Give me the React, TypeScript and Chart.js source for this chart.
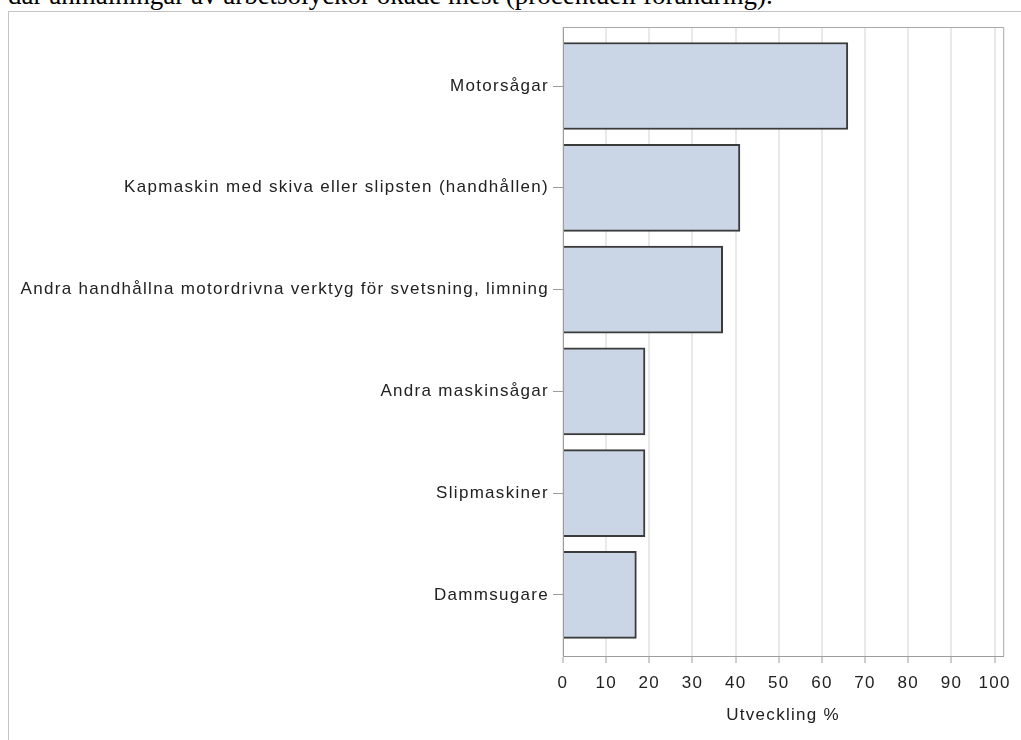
import React, { useEffect, useRef } from 'react';
import { Chart, registerables } from 'chart.js';

Chart.register(...registerables);

const heading = 'där anmälningar av arbetsolyckor ökade mest (procentuell förändring).';
const categories = [
  'Motorsågar',
  'Kapmaskin med skiva eller slipsten (handhållen)',
  'Andra handhållna motordrivna verktyg för svetsning, limning',
  'Andra maskinsågar',
  'Slipmaskiner',
  'Dammsugare',
];
const values = [66, 41, 37, 19, 19, 17];
const xTickValues = [0, 10, 20, 30, 40, 50, 60, 70, 80, 90, 100];
const xTitle = 'Utveckling %';

const FONT = "'Liberation Sans', Arial, sans-serif";
const FONT_SIZE = 17;
const TEXT_COLOR = '#222222';
const AXIS_COLOR = '#9c9c9c';
const LETTER_SPACING = '1.3px';

const framePlugin = {
  id: 'frame',
  beforeUpdate(chart: any) {
    (chart.ctx as any).letterSpacing = LETTER_SPACING;
  },
  beforeDraw(chart: any) {
    (chart.ctx as any).letterSpacing = LETTER_SPACING;
  },
  afterDraw(chart: any) {
    const { ctx, chartArea } = chart;
    ctx.save();
    ctx.strokeStyle = '#a8a8a8';
    ctx.lineWidth = 1;
    ctx.beginPath();
    ctx.moveTo(chartArea.left, chartArea.top + 0.5);
    ctx.lineTo(chartArea.right + 0.5, chartArea.top + 0.5);
    ctx.lineTo(chartArea.right + 0.5, chartArea.bottom);
    ctx.stroke();
    ctx.restore();
  },
};

export default function App() {
  const canvasRef = useRef<HTMLCanvasElement | null>(null);

  useEffect(() => {
    if (!canvasRef.current) return;
    const chart = new Chart(canvasRef.current, {
      type: 'bar',
      data: {
        datasets: [
          {
            data: values.map((v, i) => ({ x: v, y: i })),
            backgroundColor: '#cad5e6',
            borderColor: '#3b3b3b',
            borderWidth: 2,
            borderSkipped: 'start',
            barThickness: 87,
          } as any,
        ],
      },
      options: {
        animation: false,
        responsive: false,
        indexAxis: 'y',
        layout: { padding: { top: 27, right: 15, left: 0, bottom: 0 } },
        plugins: { legend: { display: false }, tooltip: { enabled: false } },
        scales: {
          x: {
            type: 'linear',
            position: 'bottom',
            min: 0,
            max: 102,
            offset: false,
            afterFit: (s: any) => {
              s.height = 84;
            },
            afterBuildTicks: (s: any) => {
              s.ticks = xTickValues.map((v) => ({ value: v }));
            },
            ticks: {
              autoSkip: false,
              maxRotation: 0,
              includeBounds: false,
              padding: 10,
              color: TEXT_COLOR,
              font: { family: FONT, size: FONT_SIZE },
            },
            grid: {
              offset: false,
              color: '#e9e9e9',
              lineWidth: 2,
              tickColor: AXIS_COLOR,
              tickWidth: 1,
              tickLength: 7,
            },
            border: { color: AXIS_COLOR, width: 1, z: 1 },
            title: {
              display: true,
              text: xTitle,
              color: TEXT_COLOR,
              font: { family: FONT, size: FONT_SIZE },
              padding: { top: 0, bottom: 14 },
            },
          },
          y: {
            type: 'linear',
            reverse: true,
            min: -0.58,
            max: 5.6,
            offset: false,
            afterFit: (s: any) => {
              s.width = 563;
            },
            afterBuildTicks: (s: any) => {
              s.ticks = categories.map((_, i) => ({ value: i }));
            },
            ticks: {
              autoSkip: false,
              includeBounds: false,
              padding: 4,
              color: TEXT_COLOR,
              font: { family: FONT, size: FONT_SIZE },
              callback: (v: any) => categories[v as number] ?? '',
            },
            grid: {
              offset: false,
              drawOnChartArea: false,
              tickColor: AXIS_COLOR,
              tickWidth: 1,
              tickLength: 10,
            },
            border: { color: AXIS_COLOR, width: 1, z: 1 },
          },
        },
      } as any,
      plugins: [framePlugin],
    });
    return () => chart.destroy();
  }, []);

  return (
    <div
      style={{
        position: 'absolute',
        left: 0,
        top: 0,
        width: 1021,
        height: 740,
        overflow: 'hidden',
        background: '#ffffff',
      }}
    >
      <div
        style={{
          position: 'absolute',
          left: 8,
          top: -18,
          whiteSpace: 'nowrap',
          fontFamily: "'Liberation Serif', 'Times New Roman', serif",
          fontSize: 27,
          lineHeight: '27px',
          color: '#000',
        }}
      >
        {heading}
      </div>
      <div
        style={{
          position: 'absolute',
          left: 8,
          top: 11,
          width: 1100,
          height: 800,
          borderLeft: '1px solid #c4c4c4',
          borderTop: '1px solid #c4c4c4',
        }}
      />
      <canvas
        ref={canvasRef}
        width={1021}
        height={740}
        style={{ position: 'absolute', left: 0, top: 0, width: 1021, height: 740 }}
      />
    </div>
  );
}
